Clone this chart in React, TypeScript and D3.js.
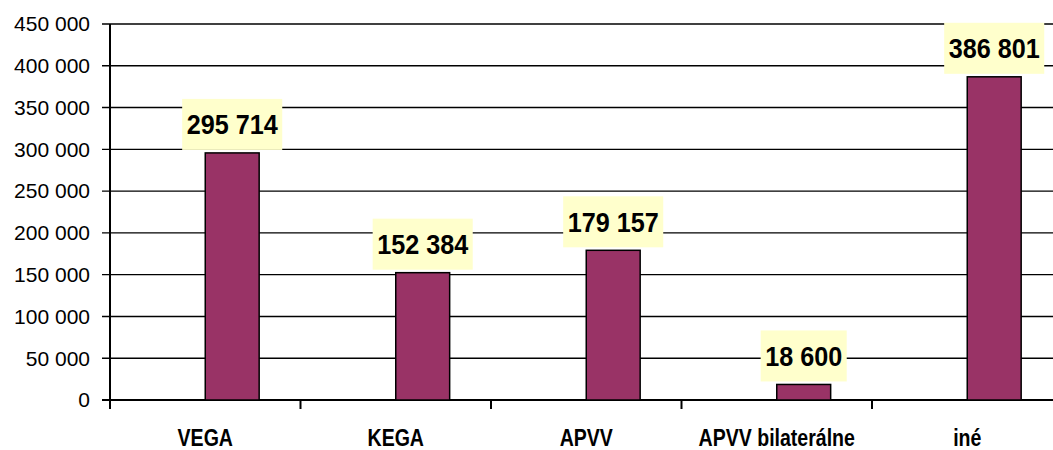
import React, { useEffect, useRef } from "react";
import * as d3 from "d3";

const categories = ["VEGA", "KEGA", "APVV", "APVV bilaterálne", "iné"];
const values = [295714, 152384, 179157, 18600, 386801];
const yTicks = [0, 50000, 100000, 150000, 200000, 250000, 300000, 350000, 400000, 450000];

const fmt = (v: number) => d3.format(",")(v).replace(/,/g, " ");

export default function App() {
  const ref = useRef<SVGSVGElement>(null);

  useEffect(() => {
    const W = 1053, H = 450;
    const margin = { top: 24, left: 110, bottom: 50 };
    const plotW = 952.5;
    const h = H - margin.top - margin.bottom;

    const svg = d3.select(ref.current);
    svg.selectAll("*").remove();

    const g = svg.append("g").attr("transform", `translate(${margin.left}, ${margin.top})`);

    const xScale = d3.scaleBand().domain(categories).range([0, plotW]);
    const yScale = d3.scaleLinear().domain([0, 450000]).range([h, 0]);
    const barW = xScale.bandwidth() * 0.283;

    // gridlines
    g.selectAll(".grid")
      .data(yTicks)
      .join("line")
      .attr("class", "grid")
      .attr("x1", -8)
      .attr("x2", plotW)
      .attr("y1", (d) => yScale(d))
      .attr("y2", (d) => yScale(d))
      .attr("stroke", "#000")
      .attr("stroke-width", (d) => (d === 0 ? 2 : 1.4));

    // y tick labels
    g.selectAll(".ylab")
      .data(yTicks)
      .join("text")
      .attr("class", "ylab")
      .attr("x", -20)
      .attr("y", (d) => yScale(d))
      .attr("dy", "0.35em")
      .attr("text-anchor", "end")
      .attr("font-family", "Liberation Sans, Arial, sans-serif")
      .attr("font-size", 21)
      .attr("fill", "#000")
      .text((d) => fmt(d));

    // y axis line
    g.append("line")
      .attr("x1", 0).attr("x2", 0)
      .attr("y1", 0).attr("y2", h)
      .attr("stroke", "#000").attr("stroke-width", 2);

    // category ticks
    const bounds = categories.map((c) => xScale(c)!).concat([plotW]);
    g.selectAll(".xtick")
      .data(bounds)
      .join("line")
      .attr("class", "xtick")
      .attr("x1", (d) => d).attr("x2", (d) => d)
      .attr("y1", h).attr("y2", h + 9)
      .attr("stroke", "#000").attr("stroke-width", 2);

    // bars
    g.selectAll(".bar")
      .data(values)
      .join("rect")
      .attr("class", "bar")
      .attr("x", (d, i) => xScale(categories[i])! + xScale.bandwidth() / 2)
      .attr("y", (d) => yScale(d))
      .attr("width", barW)
      .attr("height", (d) => h - yScale(d))
      .attr("fill", "#993366")
      .attr("stroke", "#000")
      .attr("stroke-width", 1.5);

    // value labels with boxes
    values.forEach((v, i) => {
      const cx = xScale(categories[i])! + xScale.bandwidth() / 2 + barW / 2;
      const boxBottom = yScale(v) - 3;
      const boxH = 51;
      const lg = g.append("g");
      const rect = lg.append("rect").attr("fill", "#ffffcc");
      const t = lg.append("text")
        .attr("font-family", "Liberation Sans, Arial, sans-serif")
        .attr("font-weight", "bold")
        .attr("font-size", 28)
        .attr("text-anchor", "middle")
        .attr("fill", "#000")
        .attr("transform", `translate(${cx}, ${boxBottom - boxH / 2}) scale(0.9, 1)`)
        .attr("dy", "0.36em")
        .text(fmt(v));
      const tw = (t.node() as SVGTextElement).getComputedTextLength() * 0.9;
      const bw = tw + 9;
      rect.attr("x", cx - bw / 2).attr("y", boxBottom - boxH).attr("width", bw).attr("height", boxH);
    });

    // category labels
    g.selectAll(".xlab")
      .data(categories)
      .join("text")
      .attr("class", "xlab")
      .attr("transform", (d) => `translate(${xScale(d)! + xScale.bandwidth() / 2}, ${h + 46}) scale(0.85, 1)`)
      .attr("text-anchor", "middle")
      .attr("font-family", "Liberation Sans, Arial, sans-serif")
      .attr("font-weight", "bold")
      .attr("font-size", 23)
      .attr("fill", "#000")
      .text((d) => d);

    svg.attr("width", W).attr("height", H);
  }, []);

  return (
    <svg
      ref={ref}
      width={1053}
      height={450}
      style={{ position: "absolute", left: 0, top: 0, background: "#fff" }}
    />
  );
}
